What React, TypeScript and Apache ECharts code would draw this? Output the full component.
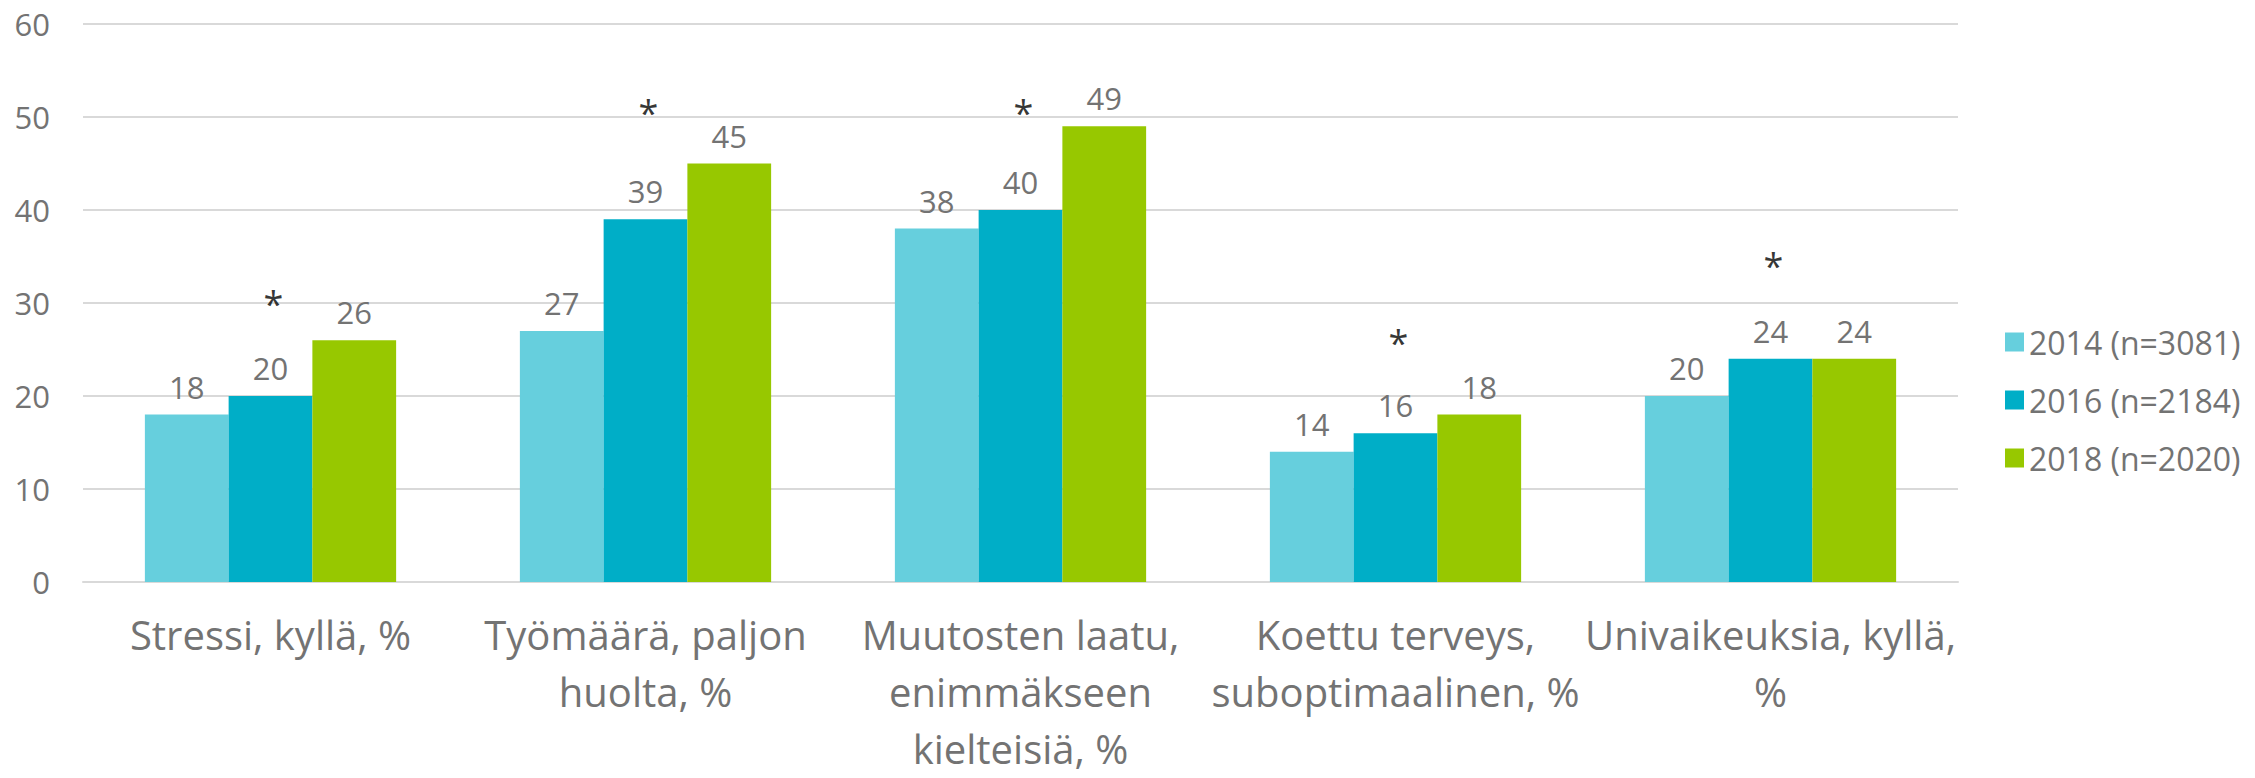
import React, { useEffect, useRef } from "react";
import * as echarts from "echarts";

const categories = [
  "Stressi, kyllä, %",
  "Työmäärä, paljon\nhuolta, %",
  "Muutosten laatu,\nenimmäkseen\nkielteisiä, %",
  "Koettu terveys,\nsuboptimaalinen, %",
  "Univaikeuksia, kyllä,\n%",
];
const seriesNames = ["2014 (n=3081)", "2016 (n=2184)", "2018 (n=2020)"];
const values2014 = [18, 27, 38, 14, 20];
const values2016 = [20, 39, 40, 16, 24];
const values2018 = [26, 45, 49, 18, 24];
// Height (in axis units) of the significance asterisk drawn above each 2016 bar
const asteriskLevels = [30.8, 51.3, 51.3, 26.6, 34.9];
const yMin = 0;
const yMax = 60;
const yInterval = 10;

const colors = ["#66CFDD", "#00AEC7", "#97C800"];
const FONT = "'Open Sans', 'Noto Sans', sans-serif";
const TEXT = "#737373";

export default function App() {
  const ref = useRef<HTMLDivElement>(null);
  useEffect(() => {
    document.body.style.margin = "0";
    if (!ref.current) return;
    const chart = echarts.init(ref.current, undefined, { renderer: "svg" });
    const valueLabel = {
      show: true,
      position: "top",
      distance: 12,
      color: TEXT,
      fontFamily: FONT,
      fontSize: 31,
      lineHeight: 32,
    };
    chart.setOption({
      animation: false,
      textStyle: { fontFamily: FONT },
      grid: { left: 83, right: 297, top: 24, bottom: 196 },
      legend: {
        orient: "vertical",
        left: 2000,
        top: 321,
        itemWidth: 19,
        itemHeight: 19,
        itemGap: 26,
        itemStyle: { borderWidth: 0 },
        icon: "rect",
        textStyle: { color: TEXT, fontSize: 32, lineHeight: 32, fontFamily: FONT },
        data: seriesNames,
      },
      xAxis: {
        type: "category",
        data: categories,
        axisTick: { show: false },
        axisLine: { lineStyle: { color: "#d9d9d9", width: 2 } },
        axisLabel: {
          interval: 0,
          color: TEXT,
          fontFamily: FONT,
          fontSize: 40,
          lineHeight: 57,
          margin: 24,
          align: "center",
        },
      },
      yAxis: {
        type: "value",
        min: yMin,
        max: yMax,
        interval: yInterval,
        axisLine: { show: false },
        axisTick: { show: false },
        splitLine: { lineStyle: { color: "#d9d9d9", width: 2 } },
        axisLabel: { color: TEXT, fontFamily: FONT, fontSize: 31, margin: 33 },
      },
      series: [
        {
          name: seriesNames[0],
          type: "bar",
          data: values2014,
          itemStyle: { color: colors[0] },
          barGap: "0%",
          barCategoryGap: "33%",
          label: valueLabel,
        },
        {
          name: seriesNames[1],
          type: "bar",
          data: values2016,
          itemStyle: { color: colors[1] },
          barGap: "0%",
          barCategoryGap: "33%",
          label: valueLabel,
        },
        {
          name: seriesNames[2],
          type: "bar",
          data: values2018,
          itemStyle: { color: colors[2] },
          barGap: "0%",
          barCategoryGap: "33%",
          label: valueLabel,
        },
        {
          name: "significance",
          type: "scatter",
          data: asteriskLevels,
          symbol: "circle",
          symbolSize: 2,
          itemStyle: { color: "rgba(0,0,0,0)" },
          silent: true,
          z: 5,
          label: {
            show: true,
            position: "inside",
            formatter: "*",
            color: "#000",
            fontFamily: FONT,
            fontSize: 36,
            offset: [3, 8],
          },
        },
      ],
    });
    return () => chart.dispose();
  }, []);
  return <div ref={ref} style={{ width: 2255, height: 778 }} />;
}
